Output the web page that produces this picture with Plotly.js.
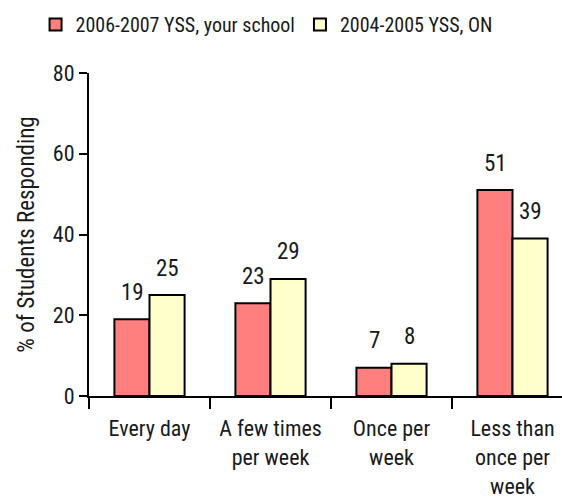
<!DOCTYPE html>
<html><head><meta charset="utf-8">
<script src="https://cdn.plot.ly/plotly-3.0.1.min.js"></script>
<style>body{margin:0;background:#fff}#c{width:562px;height:500px}</style>
</head><body><div id="c"></div>
<script>
const categories = ["Every day", "A few times<br>per week", "Once per<br>week", "Less than<br>once per<br>week"];
const seriesNames = ["2006-2007 YSS, your school", "2004-2005 YSS, ON"];
const schoolValues = [19, 23, 7, 51];
const onValues = [25, 29, 8, 39];
const yTicks = [0, 20, 40, 60, 80];

const F = "Roboto Condensed, Liberation Sans Narrow, Arial Narrow, sans-serif";
const TXT = "#1a1a1a";
const barStyle = (c) => ({color: c, line: {color: "#000", width: 2}});
const traces = [
  {type: "bar", name: seriesNames[0], x: categories, y: schoolValues, marker: barStyle("#FF7F7F")},
  {type: "bar", name: seriesNames[1], x: categories, y: onValues, marker: barStyle("#FFFFCC")}
];
const annotations = [];
[[schoolValues, -17.5], [onValues, 17.5]].forEach(([vals, dx]) => {
  vals.forEach((v, i) => annotations.push({
    x: categories[i], y: v, xref: "x", yref: "y", text: String(v), showarrow: false,
    xshift: dx, yshift: 27, yanchor: "middle", font: {family: F, size: 23, color: TXT}
  }));
});
const plotW = 562 - 89;
const layout = {
  width: 562, height: 500,
  margin: {l: 89, r: 0, t: 73, b: 104},
  paper_bgcolor: "#fff", plot_bgcolor: "#fff",
  font: {family: F, size: 20, color: TXT},
  barmode: "group", bargap: 0.42, bargroupgap: 0,
  showlegend: true,
  legend: {orientation: "h", x: -0.113, xanchor: "left", y: 1.15, yanchor: "middle",
    font: {family: F, size: 20, color: TXT}, traceorder: "normal", itemwidth: 30},
  xaxis: {range: [-0.5, -0.5 + plotW / 121], showline: true, linecolor: "#000", linewidth: 2,
    ticks: "outside", tickson: "boundaries", ticklen: 11, tickwidth: 2, tickcolor: "#000",
    ticklabelstandoff: 12,
    showgrid: false, zeroline: false, tickfont: {family: F, size: 22, color: TXT}, automargin: false},
  yaxis: {range: [0, 80], tickvals: yTicks, showline: true, linecolor: "#000", linewidth: 2,
    ticks: "outside", ticklen: 8, tickwidth: 2, tickcolor: "#000", showgrid: false, zeroline: false,
    tickfont: {family: F, size: 22, color: TXT}, automargin: false,
    title: {text: "% of Students Responding", font: {family: F, size: 23, color: TXT}, standoff: 12}},
  annotations: annotations
};
Plotly.newPlot("c", traces, layout, {displayModeBar: false, staticPlot: true});
</script></body></html>
